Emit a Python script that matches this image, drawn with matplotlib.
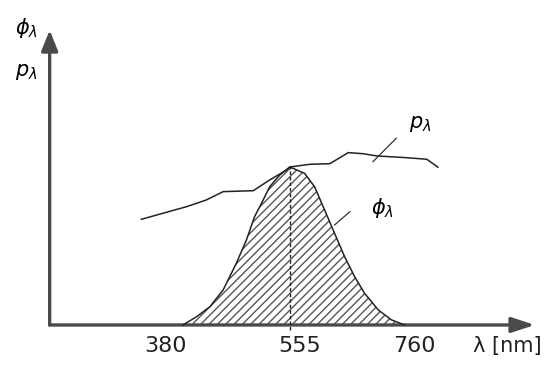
import numpy as np
import matplotlib
matplotlib.use("Agg")
import matplotlib.pyplot as plt
from matplotlib.transforms import offset_copy

# ---- data (wavelength nm, relative value) ----
phi_nm = [385, 407, 428, 449, 470, 486, 499, 510, 523, 539, 555,
          583, 602, 621, 640, 659, 678, 697, 723, 748, 773]
phi_val = [0.0, 0.053, 0.116, 0.222, 0.391, 0.538, 0.686, 0.770, 0.875, 0.949, 1.0,
           0.960, 0.875, 0.728, 0.580, 0.432, 0.306, 0.200, 0.095, 0.032, 0.0]

p_nm = [319, 353, 391, 422, 449, 497, 523, 550, 555, 593, 631, 666, 694,
        720, 776, 815, 836]
p_val = [0.669, 0.707, 0.749, 0.791, 0.844, 0.850, 0.918, 0.981, 1.0, 1.017,
         1.021, 1.091, 1.084, 1.070, 1.059, 1.049, 0.999]

tick_values = [380, 555, 760]
tick_labels = ["380", "555", "760"]
peak_nm = 555

# ---- figure ----
fig = plt.figure(figsize=(5.58, 3.70), dpi=100)
ax = fig.add_axes([0, 0, 1, 1])
ax.set_axis_off()


def fwd(x):
    x = np.asarray(x, dtype=float)
    return np.where(x < 555, 290 + (x - 555) * 0.62857, 290 + (x - 555) * 0.52683)


def inv(p):
    p = np.asarray(p, dtype=float)
    return np.where(p < 290, 555 + (p - 290) / 0.62857, 555 + (p - 290) / 0.52683)


ax.set_xscale("function", functions=(fwd, inv))
ax.set_xlim(94, 1064)
ax.set_ylim(-0.285, 2.057)

axis_col = "#4a4a4a"
# axes with arrows
ax.annotate("", xy=(1020, 0), xytext=(173, 0),
            arrowprops=dict(arrowstyle="-|>,head_length=1.0,head_width=0.33",
                            lw=2.4, color=axis_col, shrinkA=0, shrinkB=0,
                            mutation_scale=14))
ax.annotate("", xy=(173, 1.867), xytext=(173, 0),
            arrowprops=dict(arrowstyle="-|>,head_length=0.9,head_width=0.36",
                            lw=2.4, color=axis_col, shrinkA=0, shrinkB=0,
                            mutation_scale=14))

# hatched phi curve
plt.rcParams["hatch.linewidth"] = 1.0
ax.fill_between(phi_nm, phi_val, 0, facecolor="white", edgecolor="#555555",
                hatch="////", linewidth=0, zorder=2)
ax.plot(phi_nm, phi_val, color="#222222", lw=1.1, zorder=3)

# p curve
ax.plot(p_nm, p_val, color="#222222", lw=1.1, zorder=3)

# dashed line at peak
ax.plot([peak_nm, peak_nm], [-0.03, 1.0], color="#222222", lw=1.0,
        linestyle=(0, (2.5, 1.5)), zorder=4)

# leader lines
ax.plot([669, 640], [0.717, 0.633], color="#333333", lw=0.9, zorder=4)
ax.plot([757, 713], [1.182, 1.034], color="#333333", lw=0.9, zorder=4)

# curve labels
ax.text(802, 1.272, r"$p_\lambda$", fontsize=15, ha="center", va="center")
ax.text(730, 0.741, r"$\phi_\lambda$", fontsize=15, ha="center", va="center")

# axis labels
ax.text(0.048, 0.925, r"$\phi_\lambda$", transform=ax.transAxes, fontsize=15,
        ha="center", va="center")
ax.text(0.047, 0.805, r"$p_\lambda$", transform=ax.transAxes, fontsize=15,
        ha="center", va="center")

# tick labels
offsets_px = [-14, 10, 17]
for v, lab, off in zip(tick_values, tick_labels, offsets_px):
    tr = offset_copy(ax.transData, fig=fig, x=off * 0.72, y=0, units="points")
    ax.text(v, -0.136, lab, transform=tr, fontsize=16, ha="center", va="center",
            color="#222222")

ax.text(507 / 558, 1 - 346 / 370, "λ [nm]", transform=ax.transAxes, fontsize=15,
        ha="center", va="center", color="#222222")

fig.savefig("out.png", dpi=100)
